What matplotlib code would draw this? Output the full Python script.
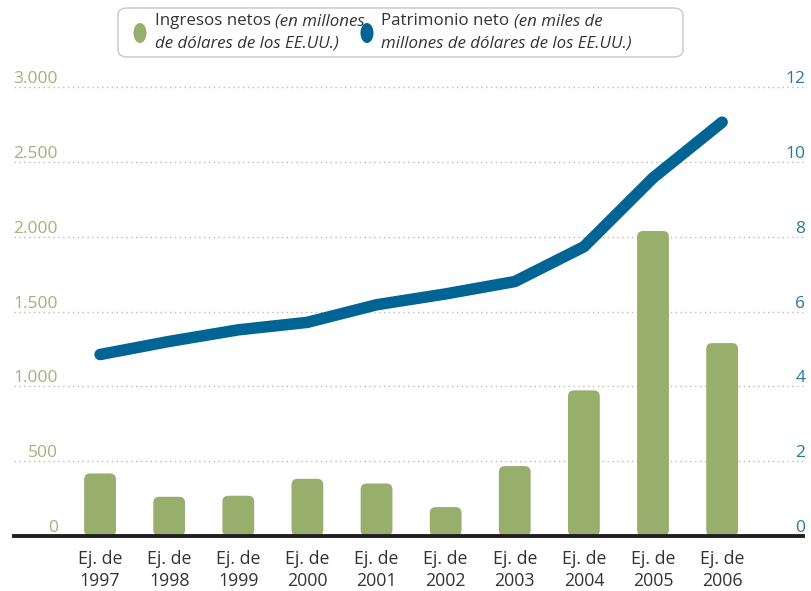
import matplotlib
matplotlib.use("Agg")
import matplotlib.pyplot as plt
from matplotlib.patches import FancyBboxPatch, Ellipse

# datos
anios = ["1997", "1998", "1999", "2000", "2001", "2002", "2003", "2004", "2005", "2006"]
ingresos = [418, 262, 269, 382, 351, 193, 467, 973, 2038, 1289]          # millones USD
patrimonio = [4.85, 5.2, 5.51, 5.71, 6.18, 6.47, 6.8, 7.73, 9.57, 11.06]  # miles de millones USD
ticks_izq = [0, 500, 1000, 1500, 2000, 2500, 3000]
etiq_izq = ["0", "500", "1.000", "1.500", "2.000", "2.500", "3.000"]
ticks_der = [0, 2, 4, 6, 8, 10, 12]

verde = "#97ae6d"
azul = "#006494"
gris = "#333333"
plt.rcParams["font.family"] = ["Open Sans", "DejaVu Sans"]

fig = plt.figure(figsize=(8.12, 5.91), dpi=100)
W, H = 812, 591
x0, x1, ytop, ybot = 14, 803, 87, 536
ax = fig.add_axes([x0 / W, 1 - ybot / H, (x1 - x0) / W, (ybot - ytop) / H])
ax2 = ax.twinx()

x = list(range(len(anios)))
ax.set_xlim(-1.245, 10.17)
ax.set_ylim(0, 3000)
ax2.set_ylim(0, 12)

# barras con esquinas redondeadas arriba
px_x = (x1 - x0) / (10.17 + 1.245)
px_y = (ybot - ytop) / 3000
barras = ax.bar(x, ingresos, width=0.46, color=verde, alpha=0)
for b in barras:
    p = FancyBboxPatch((b.get_x(), b.get_y()), b.get_width(), b.get_height(),
                       boxstyle="round,pad=0,rounding_size=%f" % (6 / px_x),
                       mutation_aspect=px_x / px_y, fc=verde, ec="none", zorder=2)
    ax.add_patch(p)

# rejilla punteada
for t in ticks_izq[1:]:
    ax.axhline(t, color="#bbbbbb", lw=1, ls=(0, (1, 2.5)), zorder=1, clip_on=False)

# linea de patrimonio
ax2.plot(x, patrimonio, color=azul, lw=8.3, solid_capstyle="round",
         solid_joinstyle="round", zorder=3)

for a in (ax, ax2):
    for s in ("top", "left", "right", "bottom"):
        a.spines[s].set_visible(False)
    a.set_yticks([])
ax.spines["bottom"].set_visible(True)
ax.spines["bottom"].set_linewidth(2.8)
ax.spines["bottom"].set_color("#231f20")
ax.spines["bottom"].set_zorder(5)

ax.set_xticks(x)
ax.set_xticklabels(["Ej. de\n" + a for a in anios], fontsize=12.8, color=gris,
                   linespacing=1.32)
ax.tick_params(axis="x", length=0, pad=10)

# etiquetas de ejes sobre las lineas
for t, lab in zip(ticks_izq, etiq_izq):
    ax.text((58 - x0) / (x1 - x0), t, lab, transform=ax.get_yaxis_transform(),
            ha="right", va="bottom", fontsize=12.5, color="#9db57a")
for t in ticks_der:
    ax2.text(1.003, t, str(t), transform=ax2.get_yaxis_transform(),
             ha="right", va="bottom", fontsize=12.5, color="#2a77a3")

# leyenda
fig.patches.append(FancyBboxPatch((118 / W, 1 - 57 / H), (683 - 118) / W, 49 / H,
                                  boxstyle="round,pad=0,rounding_size=0.012",
                                  transform=fig.transFigure, fc="white",
                                  ec="#c8c8c8", lw=1))
fig.patches.append(Ellipse((140 / W, 1 - 33 / H), 13 / W, 20 / H,
                           transform=fig.transFigure, fc=verde, ec="none"))
fig.patches.append(Ellipse((367 / W, 1 - 33 / H), 13 / W, 20 / H,
                           transform=fig.transFigure, fc=azul, ec="none"))

r = fig.canvas.get_renderer()


def texto_mixto(xp, yp, normal, cursiva):
    t = fig.text(xp / W, 1 - yp / H, normal, fontsize=12.2, color=gris, va="center")
    xp2 = xp
    if normal:
        xp2 = xp + t.get_window_extent(r).width
    fig.text(xp2 / W, 1 - yp / H, cursiva, fontsize=12.2, color=gris,
             va="center", style="italic")


texto_mixto(155, 21, "Ingresos netos ", "(en millones")
texto_mixto(155, 44, "", "de dólares de los EE.UU.)")
texto_mixto(381, 21, "Patrimonio neto ", "(en miles de")
texto_mixto(381, 44, "", "millones de dólares de los EE.UU.)")

fig.savefig("out.png", dpi=100)
